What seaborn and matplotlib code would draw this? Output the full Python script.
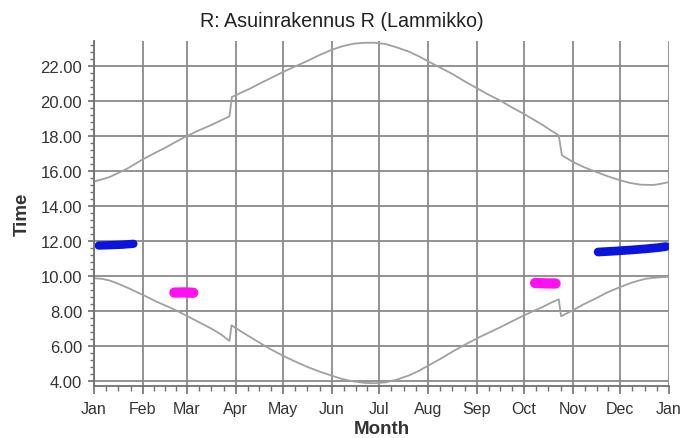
import numpy as np
import pandas as pd
import matplotlib
matplotlib.use("Agg")
import matplotlib.pyplot as plt
from matplotlib.ticker import FixedLocator, MultipleLocator, FormatStrFormatter
import seaborn as sns

# Day of year (0 = 1 Jan) and clock time in hours
sunset_day = [0, 5, 10, 15, 21, 26, 31, 38, 45, 52, 59, 66, 74, 80, 86, 87.5, 99, 105,
              112, 120, 128, 135, 143, 151, 158, 165, 172, 178, 185, 192, 200, 207, 212,
              220, 228, 235, 243, 250, 258, 265, 273, 279, 285, 290, 295, 297, 304, 311,
              319, 326, 334, 340, 347, 355, 360, 365]
sunset_time = [15.38, 15.5, 15.64, 15.85, 16.11, 16.38, 16.65, 16.98, 17.3, 17.65, 17.98,
               18.28, 18.59, 18.85, 19.1, 20.21, 20.69, 20.97, 21.28, 21.64, 21.97, 22.25,
               22.6, 22.91, 23.12, 23.26, 23.31, 23.31, 23.24, 23.05, 22.8, 22.5, 22.25,
               21.88, 21.5, 21.12, 20.72, 20.36, 20.0, 19.63, 19.24, 18.92, 18.6, 18.3,
               18.02, 16.88, 16.5, 16.2, 15.92, 15.68, 15.45, 15.3, 15.2, 15.18, 15.25,
               15.35]

sunrise_day = [0, 5, 10, 15, 22, 31, 40, 50, 59, 67, 75, 81, 86, 87.3, 95, 105, 112, 120,
               128, 135, 143, 151, 158, 165, 172, 178, 185, 192, 200, 206, 212, 220, 228,
               236, 245, 252, 259, 266, 273, 279, 285, 290, 295, 296.5, 304, 311, 319, 326,
               334, 342, 350, 358, 365]
sunrise_time = [9.85, 9.82, 9.72, 9.55, 9.28, 8.9, 8.5, 8.11, 7.7, 7.32, 6.95, 6.62, 6.27,
                7.16, 6.72, 6.17, 5.8, 5.42, 5.08, 4.8, 4.52, 4.28, 4.08, 3.95, 3.87, 3.85,
                3.9, 4.05, 4.3, 4.55, 4.85, 5.25, 5.68, 6.08, 6.5, 6.8, 7.1, 7.42, 7.73,
                7.98, 8.22, 8.45, 8.65, 7.68, 8.02, 8.37, 8.72, 9.05, 9.35, 9.62, 9.82, 9.9,
                9.93]

# Shadow periods on the building
shade_jan_day = [3, 10, 18, 25]
shade_jan_time = [11.72, 11.74, 11.77, 11.82]
shade_mar_day = [51, 57, 63]
shade_mar_time = [9.03, 9.04, 9.02]
shade_oct_day = [280, 286, 293]
shade_oct_time = [9.58, 9.56, 9.55]
shade_dec_day = [320, 330, 340, 350, 358, 363]
shade_dec_time = [11.35, 11.4, 11.46, 11.53, 11.6, 11.66]

month_start = [0, 31, 59, 90, 120, 151, 181, 212, 243, 273, 304, 334, 365]
month_labels = ["Jan", "Feb", "Mar", "Apr", "May", "Jun", "Jul", "Aug", "Sep",
                "Oct", "Nov", "Dec", "Jan"]

sns.set_theme(style="white")
plt.rcParams["font.family"] = ["Liberation Sans", "DejaVu Sans"]

fig = plt.figure(figsize=(6.97, 4.39), dpi=100)
ax = fig.add_axes([94 / 697, 1 - 386.7 / 439, (669 - 94) / 697, (386.7 - 42) / 439])

curve_color = "#a0a0a0"
grid_color = "#8a8a8a"

sns.lineplot(x=sunset_day, y=sunset_time, ax=ax, color=curve_color, lw=1.3, sort=False)
sns.lineplot(x=sunrise_day, y=sunrise_time, ax=ax, color=curve_color, lw=1.3, sort=False)

blob_kw = dict(ax=ax, sort=False, solid_capstyle="round")
sns.lineplot(x=shade_jan_day, y=shade_jan_time, color="#0a14dc", lw=6.0, **blob_kw)
sns.lineplot(x=shade_dec_day, y=shade_dec_time, color="#0a14dc", lw=6.3, **blob_kw)
sns.lineplot(x=shade_mar_day, y=shade_mar_time, color="#ff10f0", lw=7.4, **blob_kw)
sns.lineplot(x=shade_oct_day, y=shade_oct_time, color="#ff10f0", lw=7.4, **blob_kw)

ax.set_xlim(0, 365)
ax.set_ylim(3.71, 23.41)

ax.xaxis.set_major_locator(FixedLocator(month_start))
ax.set_xticklabels(month_labels)
minor_x = []
for a, b in zip(month_start[:-1], month_start[1:]):
    minor_x += [a + (b - a) * k / 4 for k in (1, 2, 3)]
ax.xaxis.set_minor_locator(FixedLocator(minor_x))

ax.yaxis.set_major_locator(FixedLocator(np.arange(4, 23, 2)))
ax.yaxis.set_minor_locator(MultipleLocator(0.4))
ax.yaxis.set_major_formatter(FormatStrFormatter("%.2f"))

ax.grid(True, which="major", color=grid_color, lw=1.3)
ax.set_axisbelow(True)

for s in ("top", "right"):
    ax.spines[s].set_visible(False)
for s in ("left", "bottom"):
    ax.spines[s].set_color("#707070")
    ax.spines[s].set_linewidth(1.3)

ax.tick_params(axis="x", which="major", direction="out", length=6, width=1.2,
               color="#707070", pad=5, labelsize=11.5, labelcolor="#333333", bottom=True)
ax.tick_params(axis="x", which="minor", direction="out", length=3.5, width=1.0,
               color="#707070", bottom=True)
ax.tick_params(axis="y", which="major", direction="out", length=4.5, width=1.2,
               color="#707070", pad=4, labelsize=12, labelcolor="#333333", left=True)
ax.tick_params(axis="y", which="minor", direction="out", length=3, width=1.0,
               color="#707070", left=True)

ax.set_xlabel("Month", fontsize=13.5, fontweight="bold", color="#333333", labelpad=3)
ax.set_ylabel("Time", fontsize=13.5, fontweight="bold", color="#333333", labelpad=7)
fig.suptitle("R: Asuinrakennus R (Lammikko)", x=0.491, y=0.972, fontsize=14.2,
             color="#222222")

fig.savefig("out.png", dpi=100)
